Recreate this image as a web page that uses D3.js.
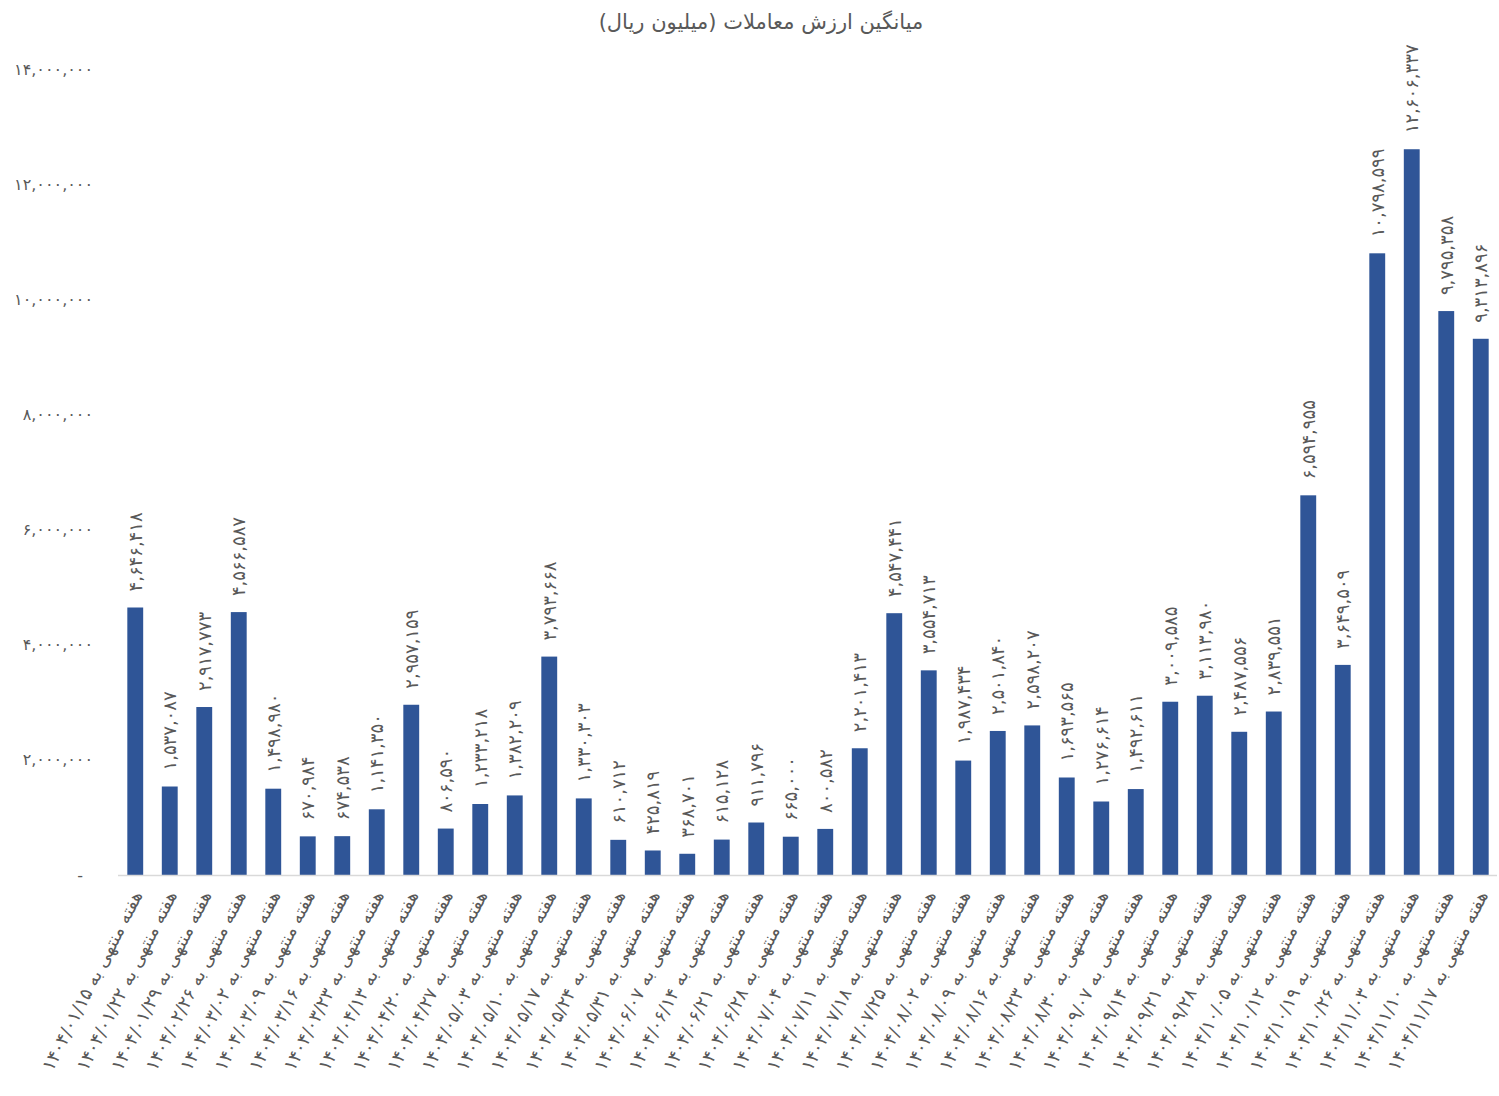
<!DOCTYPE html>
<html>
<head>
<meta charset="utf-8">
<script src="https://cdn.jsdelivr.net/npm/d3@7"></script>
<style>
  body { margin: 0; background: #fff; }
  svg text { font-family: "DejaVu Sans", "Noto Sans", sans-serif; fill: #595959; }
</style>
</head>
<body>
<div id="container"></div>
<script>
const weeks = [
  "1404/01/15", "1404/01/22", "1404/01/29", "1404/02/26", "1404/03/02",
  "1404/03/09", "1404/03/16", "1404/03/23", "1404/04/13", "1404/04/20",
  "1404/04/27", "1404/05/03", "1404/05/10", "1404/05/17", "1404/05/24",
  "1404/05/31", "1404/06/07", "1404/06/14", "1404/06/21", "1404/06/28",
  "1404/07/04", "1404/07/11", "1404/07/18", "1404/07/25", "1404/08/02",
  "1404/08/09", "1404/08/16", "1404/08/23", "1404/08/30", "1404/09/07",
  "1404/09/14", "1404/09/21", "1404/09/28", "1404/10/05", "1404/10/12",
  "1404/10/19", "1404/10/26", "1404/11/03", "1404/11/10", "1404/11/17"
];

const avgValue = [
  4646418, 1537087, 2917773, 4566587, 1498980,
  670984, 674538, 1141350, 2957159, 806590,
  1233218, 1382209, 3793668, 1330303, 610712,
  425819, 368701, 615128, 911796, 665000,
  800582, 2201413, 4547441, 3554713, 1987434,
  2501840, 2598207, 1693565, 1276614, 1492611,
  3009585, 3113980, 2487556, 2839551, 6594955,
  3649509, 10798599, 12606337, 9795358, 9313896
];

const yTicks = [0, 2000000, 4000000, 6000000, 8000000, 10000000, 12000000, 14000000];

const title = "میانگین ارزش معاملات (میلیون ریال)";
const weekPrefix = "هفته منتهی به ";

const width = 1499;
const height = 1096;
const margin = { top: 69, right: 1, bottom: 221, left: 118 };

const faDigits = "۰۱۲۳۴۵۶۷۸۹";
const toFa = s => String(s).replace(/\d/g, d => faDigits[+d]);
const fmt = d3.format(",");

const svg = d3.select("#container").append("svg")
    .attr("width", width)
    .attr("height", height);

const x = d3.scaleBand()
    .domain(weeks)
    .range([margin.left, width - margin.right])
    .paddingInner(0.54)
    .paddingOuter(0.27);

const y = d3.scaleLinear()
    .domain([0, 14000000])
    .range([height - margin.bottom, margin.top]);

// title
svg.append("text")
    .attr("x", 761)
    .attr("y", 29)
    .attr("text-anchor", "middle")
    .style("font-size", "21px")
    .text(title);

// y axis labels (no line, no gridlines)
const yAxis = g => g
    .attr("transform", `translate(${margin.left - 22},0)`)
    .call(d3.axisLeft(y).tickValues(yTicks).tickSize(0)
        .tickFormat(d => d === 0 ? "-" : toFa(fmt(d))))
    .call(g => g.select(".domain").remove())
    .call(g => g.selectAll("text")
        .style("font-size", "16px")
        .attr("fill", "#595959")
        .attr("dx", d => d === 0 ? -10 : 0));
svg.append("g").call(yAxis);

// bars
svg.append("g")
  .selectAll("rect")
  .data(weeks)
  .join("rect")
    .attr("x", d => x(d))
    .attr("y", (d, i) => y(avgValue[i]))
    .attr("width", x.bandwidth())
    .attr("height", (d, i) => y(0) - y(avgValue[i]))
    .attr("fill", "#2F5597");

// x axis baseline
svg.append("line")
    .attr("x1", margin.left)
    .attr("x2", width - 2)
    .attr("y1", y(0) + 0.5)
    .attr("y2", y(0) + 0.5)
    .attr("stroke", "#D9D9D9")
    .attr("stroke-width", 1.5);

// value labels
svg.append("g")
  .selectAll("text")
  .data(weeks)
  .join("text")
    .attr("transform", (d, i) =>
        `translate(${x(d) + x.bandwidth() / 2},${y(avgValue[i]) - 16}) rotate(-90)`)
    .attr("dy", "0.35em")
    .attr("text-anchor", "start")
    .style("font-size", "18px")
    .attr("fill", "#404040")
    .text((d, i) => toFa(fmt(avgValue[i])));

// category labels
svg.append("g")
  .selectAll("text")
  .data(weeks)
  .join("text")
    .attr("transform", d =>
        `translate(${x(d) + x.bandwidth() / 2 + 2},${y(0) + 17}) rotate(-63)`)
    .attr("dy", "0.35em")
    .attr("text-anchor", "end")
    .style("font-size", "18px")
    .text(d => weekPrefix + toFa(d));
</script>
</body>
</html>
